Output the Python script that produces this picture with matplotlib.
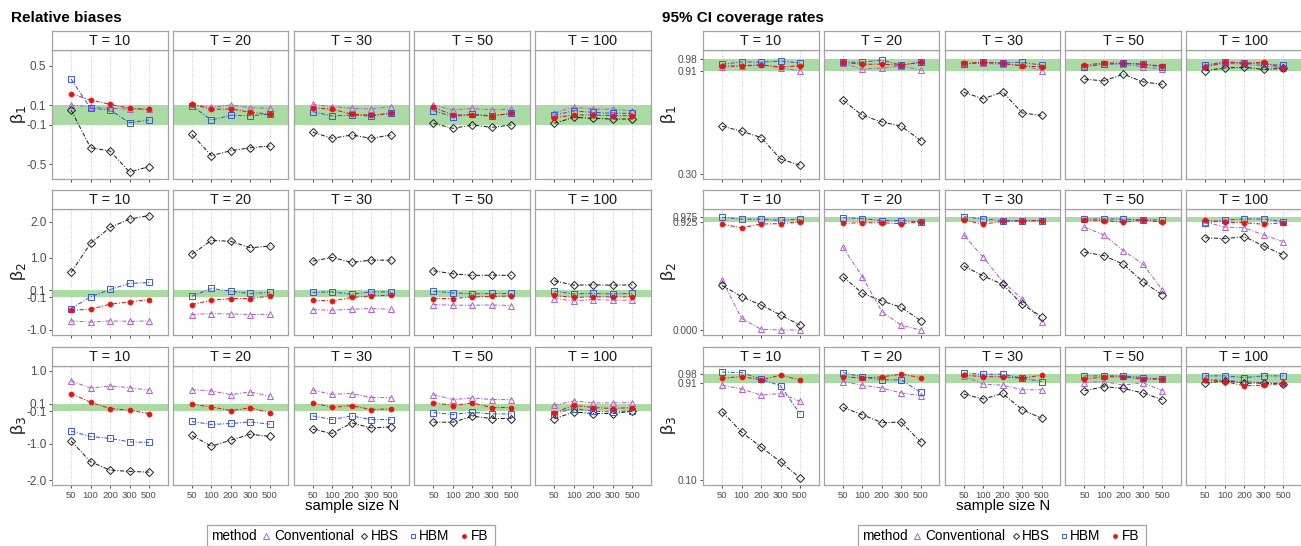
import numpy as np
import matplotlib.pyplot as plt
from matplotlib.lines import Line2D
from matplotlib.patches import Rectangle

plt.rcParams['font.family'] = ['Liberation Sans', 'DejaVu Sans']

W, H = 1301, 546

n_labels = ['50', '100', '200', '300', '500']
t_values = [10, 20, 30, 50, 100]
methods = ['Conventional', 'HBS', 'HBM', 'FB']

# relative biases, one row per T (10, 20, 30, 50, 100), columns N = 50..500
bias_b1_conv = [[0.100, 0.085, 0.068, 0.058, 0.058], [0.109, 0.078, 0.102, 0.075, 0.068],
                [0.109, 0.085, 0.068, 0.061, 0.085], [0.102, 0.051, 0.068, 0.051, 0.061],
                [0.024, 0.078, 0.061, 0.058, 0.044]]
bias_b1_hbs = [[0.051, -0.334, -0.367, -0.582, -0.527], [-0.197, -0.415, -0.364, -0.334, -0.316],
               [-0.176, -0.238, -0.204, -0.238, -0.204], [-0.085, -0.136, -0.102, -0.126, -0.102],
               [-0.085, -0.024, -0.034, -0.041, -0.041]]
bias_b1_hbm = [[0.367, 0.068, 0.051, -0.078, -0.051], [0.095, -0.051, -0.003, -0.007, 0.007],
               [0.034, -0.010, 0.000, -0.010, 0.017], [0.044, -0.017, 0.010, -0.010, 0.017],
               [0.000, 0.041, 0.027, 0.017, 0.017]]
bias_b1_fb = [[0.217, 0.153, 0.109, 0.068, 0.058], [0.112, 0.058, 0.061, 0.027, 0.010],
              [0.075, 0.058, 0.010, -0.003, 0.017], [0.078, 0.000, 0.000, -0.010, 0.017],
              [-0.027, 0.000, 0.000, -0.007, -0.007]]

bias_b2_conv = [[-0.75, -0.78, -0.75, -0.76, -0.75], [-0.572, -0.544, -0.556, -0.572, -0.564],
                [-0.433, -0.453, -0.425, -0.406, -0.425], [-0.294, -0.314, -0.314, -0.306, -0.322],
                [-0.128, -0.194, -0.156, -0.175, -0.175]]
bias_b2_hbs = [[0.594, 1.40, 1.84, 2.07, 2.17], [1.094, 1.483, 1.456, 1.278, 1.325],
               [0.908, 1.011, 0.872, 0.936, 0.936], [0.640, 0.556, 0.511, 0.519, 0.511],
               [0.361, 0.242, 0.250, 0.242, 0.250]]
bias_b2_hbm = [[-0.406, -0.083, 0.122, 0.289, 0.317], [-0.064, 0.150, 0.075, 0.011, 0.039],
               [0.039, 0.056, -0.008, 0.056, 0.056], [0.075, 0.028, 0.000, 0.011, 0.011],
               [0.075, 0.000, 0.011, 0.000, 0.011]]
bias_b2_fb = [[-0.453, -0.425, -0.286, -0.222, -0.156], [-0.294, -0.175, -0.128, -0.128, -0.064],
              [-0.175, -0.194, -0.100, -0.056, -0.036], [-0.128, -0.128, -0.083, -0.072, -0.056],
              [-0.044, -0.100, -0.083, -0.083, -0.083]]

bias_b3_conv = [[0.726, 0.534, 0.589, 0.545, 0.471], [0.490, 0.452, 0.353, 0.425, 0.307],
                [0.471, 0.362, 0.381, 0.271, 0.271], [0.353, 0.216, 0.260, 0.216, 0.216],
                [0.060, 0.178, 0.124, 0.124, 0.134]]
bias_b3_hbs = [[-0.918, -1.493, -1.721, -1.756, -1.775], [-0.770, -1.063, -0.899, -0.734, -0.797],
               [-0.597, -0.715, -0.425, -0.562, -0.534], [-0.405, -0.405, -0.241, -0.304, -0.304],
               [-0.315, -0.123, -0.167, -0.167, -0.104]]
bias_b3_hbm = [[-0.652, -0.797, -0.852, -0.945, -0.962], [-0.386, -0.468, -0.441, -0.397, -0.460],
               [-0.233, -0.332, -0.233, -0.332, -0.332], [-0.140, -0.195, -0.132, -0.178, -0.178],
               [-0.167, -0.030, -0.104, -0.123, -0.096]]
bias_b3_fb = [[0.381, 0.142, -0.030, -0.077, -0.168], [0.088, 0.014, -0.085, -0.014, -0.140],
              [0.124, 0.005, 0.052, -0.058, -0.041], [0.134, 0.052, 0.124, -0.003, -0.003],
              [-0.151, 0.060, -0.003, -0.030, -0.003]]

# 95% CI coverage rates
cov_b1_conv = [[0.932, 0.941, 0.950, 0.929, 0.912], [0.956, 0.922, 0.928, 0.941, 0.916],
               [0.956, 0.956, 0.951, 0.945, 0.912], [0.941, 0.951, 0.951, 0.935, 0.922],
               [0.941, 0.956, 0.951, 0.940, 0.929]]
cov_b1_hbs = [[0.583, 0.554, 0.516, 0.389, 0.352], [0.738, 0.647, 0.609, 0.583, 0.498],
              [0.785, 0.745, 0.787, 0.662, 0.647], [0.862, 0.852, 0.892, 0.846, 0.831],
              [0.912, 0.929, 0.932, 0.920, 0.926]]
cov_b1_hbm = [[0.950, 0.965, 0.963, 0.969, 0.959], [0.962, 0.963, 0.975, 0.945, 0.963],
              [0.951, 0.962, 0.959, 0.962, 0.945], [0.935, 0.951, 0.956, 0.950, 0.935],
              [0.945, 0.965, 0.959, 0.950, 0.945]]
cov_b1_fb = [[0.941, 0.940, 0.945, 0.935, 0.941], [0.962, 0.950, 0.951, 0.945, 0.963],
             [0.956, 0.962, 0.956, 0.940, 0.935], [0.945, 0.959, 0.956, 0.951, 0.940],
             [0.935, 0.962, 0.956, 0.962, 0.926]]

cov_b2_conv = [[0.430, 0.100, 0.006, 0.000, 0.000], [0.712, 0.459, 0.158, 0.040, 0.000],
               [0.818, 0.626, 0.416, 0.267, 0.072], [0.884, 0.818, 0.682, 0.568, 0.344],
               [0.932, 0.884, 0.880, 0.818, 0.760]]
cov_b2_hbs = [[0.384, 0.287, 0.215, 0.129, 0.043], [0.459, 0.316, 0.250, 0.195, 0.080],
              [0.551, 0.465, 0.393, 0.221, 0.115], [0.669, 0.640, 0.565, 0.416, 0.301],
              [0.794, 0.786, 0.803, 0.723, 0.645]]
cov_b2_hbm = [[0.970, 0.953, 0.953, 0.944, 0.953], [0.967, 0.958, 0.941, 0.941, 0.932],
              [0.975, 0.955, 0.941, 0.941, 0.941], [0.955, 0.955, 0.953, 0.947, 0.947],
              [0.918, 0.947, 0.955, 0.955, 0.932]]
cov_b2_fb = [[0.910, 0.880, 0.912, 0.915, 0.929], [0.918, 0.923, 0.923, 0.915, 0.932],
             [0.947, 0.910, 0.935, 0.938, 0.941], [0.947, 0.941, 0.927, 0.947, 0.927],
             [0.947, 0.927, 0.923, 0.910, 0.923]]

cov_b3_conv = [[0.889, 0.857, 0.807, 0.820, 0.755], [0.919, 0.889, 0.865, 0.824, 0.801],
               [0.966, 0.898, 0.889, 0.851, 0.851], [0.911, 0.919, 0.889, 0.911, 0.843],
               [0.939, 0.931, 0.919, 0.911, 0.906]]
cov_b3_hbs = [[0.670, 0.500, 0.376, 0.253, 0.121], [0.705, 0.643, 0.579, 0.582, 0.417],
              [0.815, 0.774, 0.820, 0.686, 0.615], [0.843, 0.876, 0.862, 0.824, 0.769],
              [0.906, 0.925, 0.906, 0.906, 0.898]]
cov_b3_hbm = [[0.998, 0.993, 0.939, 0.884, 0.651], [0.993, 0.958, 0.933, 0.933, 0.829],
              [0.990, 0.980, 0.980, 0.947, 0.919], [0.966, 0.966, 0.966, 0.952, 0.939],
              [0.966, 0.966, 0.952, 0.966, 0.966]]
cov_b3_fb = [[0.947, 0.960, 0.933, 0.972, 0.933], [0.960, 0.947, 0.958, 0.980, 0.952],
             [0.972, 0.960, 0.958, 0.947, 0.972], [0.939, 0.958, 0.958, 0.939, 0.939],
             [0.933, 0.919, 0.884, 0.889, 0.903]]

bias_bands = [(-0.1, 0.1), (-0.1, 0.1), (-0.1, 0.1)]
cov_bands = [(0.91, 0.98), (0.925, 0.975), (0.91, 0.98)]
bias_ticks = [[-0.5, -0.1, 0.1, 0.5], [-1.0, -0.1, 0.1, 1.0, 2.0], [-2.0, -1.0, -0.1, 0.1, 1.0]]
cov_ticks = [[0.30, 0.91, 0.98], [0.000, 0.925, 0.975], [0.10, 0.91, 0.98]]

colors = {'Conventional': '#b060d6', 'HBS': '#222222', 'HBM': '#3a55e0', 'FB': '#ee1111'}
markers = {'Conventional': '^', 'HBS': 'D', 'HBM': 's', 'FB': 'o'}
msize = {'Conventional': 5.0, 'HBS': 3.8, 'HBM': 4.3, 'FB': 3.4}
band_color = '#aadba3'
frame_color = '#a3a3a3'
text_grey = '#4d4d4d'

groups = [
    dict(dx=0, title='Relative biases', ytsize=8.5,
         data=[[bias_b1_conv, bias_b1_hbs, bias_b1_hbm, bias_b1_fb],
               [bias_b2_conv, bias_b2_hbs, bias_b2_hbm, bias_b2_fb],
               [bias_b3_conv, bias_b3_hbs, bias_b3_hbm, bias_b3_fb]],
         ylims=[(-0.656, 0.663), (-1.139, 2.352), (-2.129, 1.137)],
         ticks=bias_ticks, bands=bias_bands, fmts=['{:.1f}'] * 3),
    dict(dx=651, title='95% CI coverage rates', ytsize=7.3,
         data=[[cov_b1_conv, cov_b1_hbs, cov_b1_hbm, cov_b1_fb],
               [cov_b2_conv, cov_b2_hbs, cov_b2_hbm, cov_b2_fb],
               [cov_b3_conv, cov_b3_hbs, cov_b3_hbm, cov_b3_fb]],
         ylims=[(0.2685, 1.035), (-0.043, 1.041), (0.061, 1.048)],
         ticks=cov_ticks, bands=cov_bands, fmts=['{:.2f}', '{:.3f}', '{:.2f}']),
]


def fbox(x0, y0, w, h):
    return [x0 / W, 1 - (y0 + h) / H, w / W, h / H]


fig = plt.figure(figsize=(W / 100, H / 100), dpi=100)

col_left = 52
pitch = 120.8
pw = 115.5
strip_top = [31, 190, 347]
strip_h = 19
panel_top = [50, 209, 366]
panel_bot = [179.3, 335, 485]
xpos = np.arange(1, 6)

for g in groups:
    for r in range(3):
        for c in range(5):
            x0 = g['dx'] + col_left + c * pitch
            ax = fig.add_axes(fbox(x0, panel_top[r], pw, panel_bot[r] - panel_top[r]))
            ax.set_facecolor('white')
            lo, hi = g['bands'][r]
            ax.axhspan(lo, hi, color=band_color, lw=0, zorder=1)
            for m, series in zip(methods, g['data'][r]):
                ax.plot(xpos, series[c], color=colors[m], lw=0.75,
                        dashes=[4, 1.6, 1, 1.6], marker=markers[m], ms=msize[m],
                        mfc=colors[m] if m == 'FB' else 'none', mec=colors[m],
                        mew=0.7, zorder=3)
            ax.set_xlim(0.02, 5.95)
            ax.set_ylim(*g['ylims'][r])
            ax.set_xticks(xpos)
            ax.grid(axis='x', linestyle=(0, (1, 2)), color='#bdbdbd', lw=0.6, zorder=0)
            ax.set_axisbelow(True)
            for s in ax.spines.values():
                s.set_color(frame_color)
                s.set_linewidth(0.9)
            ax.tick_params(axis='x', length=2.5, width=0.6, color='#333333', pad=2,
                           labelsize=6.8, labelcolor=text_grey)
            if r == 2:
                ax.set_xticklabels(n_labels)
            else:
                ax.set_xticklabels([])
            ax.set_yticks(g['ticks'][r])
            if c == 0:
                ax.set_yticklabels([g['fmts'][r].format(v) for v in g['ticks'][r]])
                ax.tick_params(axis='y', length=2.5, width=0.6, color='#333333', pad=1.5,
                               labelsize=g['ytsize'], labelcolor=text_grey)
            else:
                ax.tick_params(axis='y', left=False, labelleft=False)

            sax = fig.add_axes(fbox(x0, strip_top[r], pw, strip_h))
            sax.set_xticks([])
            sax.set_yticks([])
            sax.set_facecolor('white')
            for s in sax.spines.values():
                s.set_color(frame_color)
                s.set_linewidth(0.9)
            sax.text(0.5, 0.45, 'T = %d' % t_values[c], ha='center', va='center',
                     fontsize=10.4, color='#1a1a1a', transform=sax.transAxes)

        yc = (panel_top[r] + panel_bot[r]) / 2
        fig.text((g['dx'] + 18) / W, 1 - yc / H, 'β$_%d$' % (r + 1), rotation=90,
                 ha='center', va='center', fontsize=12.5, color='#1a1a1a')

    fig.text((g['dx'] + 11) / W, 1 - 18 / H, g['title'], fontsize=11, fontweight='bold',
             ha='left', va='center', color='black')
    fig.text((g['dx'] + 352) / W, 1 - 506 / H, 'sample size N', fontsize=10.8,
             ha='center', va='center', color='black')

    # legend
    lx = g['dx']
    fig.add_artist(Rectangle(((lx + 207) / W, 1 - 546 / H), 288 / W, 21 / H,
                             transform=fig.transFigure, fill=False, ec=frame_color, lw=0.9))
    ly = 1 - 536 / H
    fig.text((lx + 211) / W, ly, 'method', fontsize=9.8, ha='left', va='center')
    entries = [('Conventional', 265.7, 274), ('HBS', 364.5, 370.5),
               ('HBM', 412.7, 418.5), ('FB', 463.5, 470.5)]
    for m, mx, tx in entries:
        fig.add_artist(Line2D([(lx + mx) / W], [ly], transform=fig.transFigure,
                              marker=markers[m], ms=msize[m] * 0.8, mec=colors[m], mew=0.7,
                              mfc=colors[m] if m == 'FB' else 'none', ls='none'))
        fig.text((lx + tx) / W, ly, m, fontsize=9.8, ha='left', va='center')

fig.savefig('out.png', dpi=100)
